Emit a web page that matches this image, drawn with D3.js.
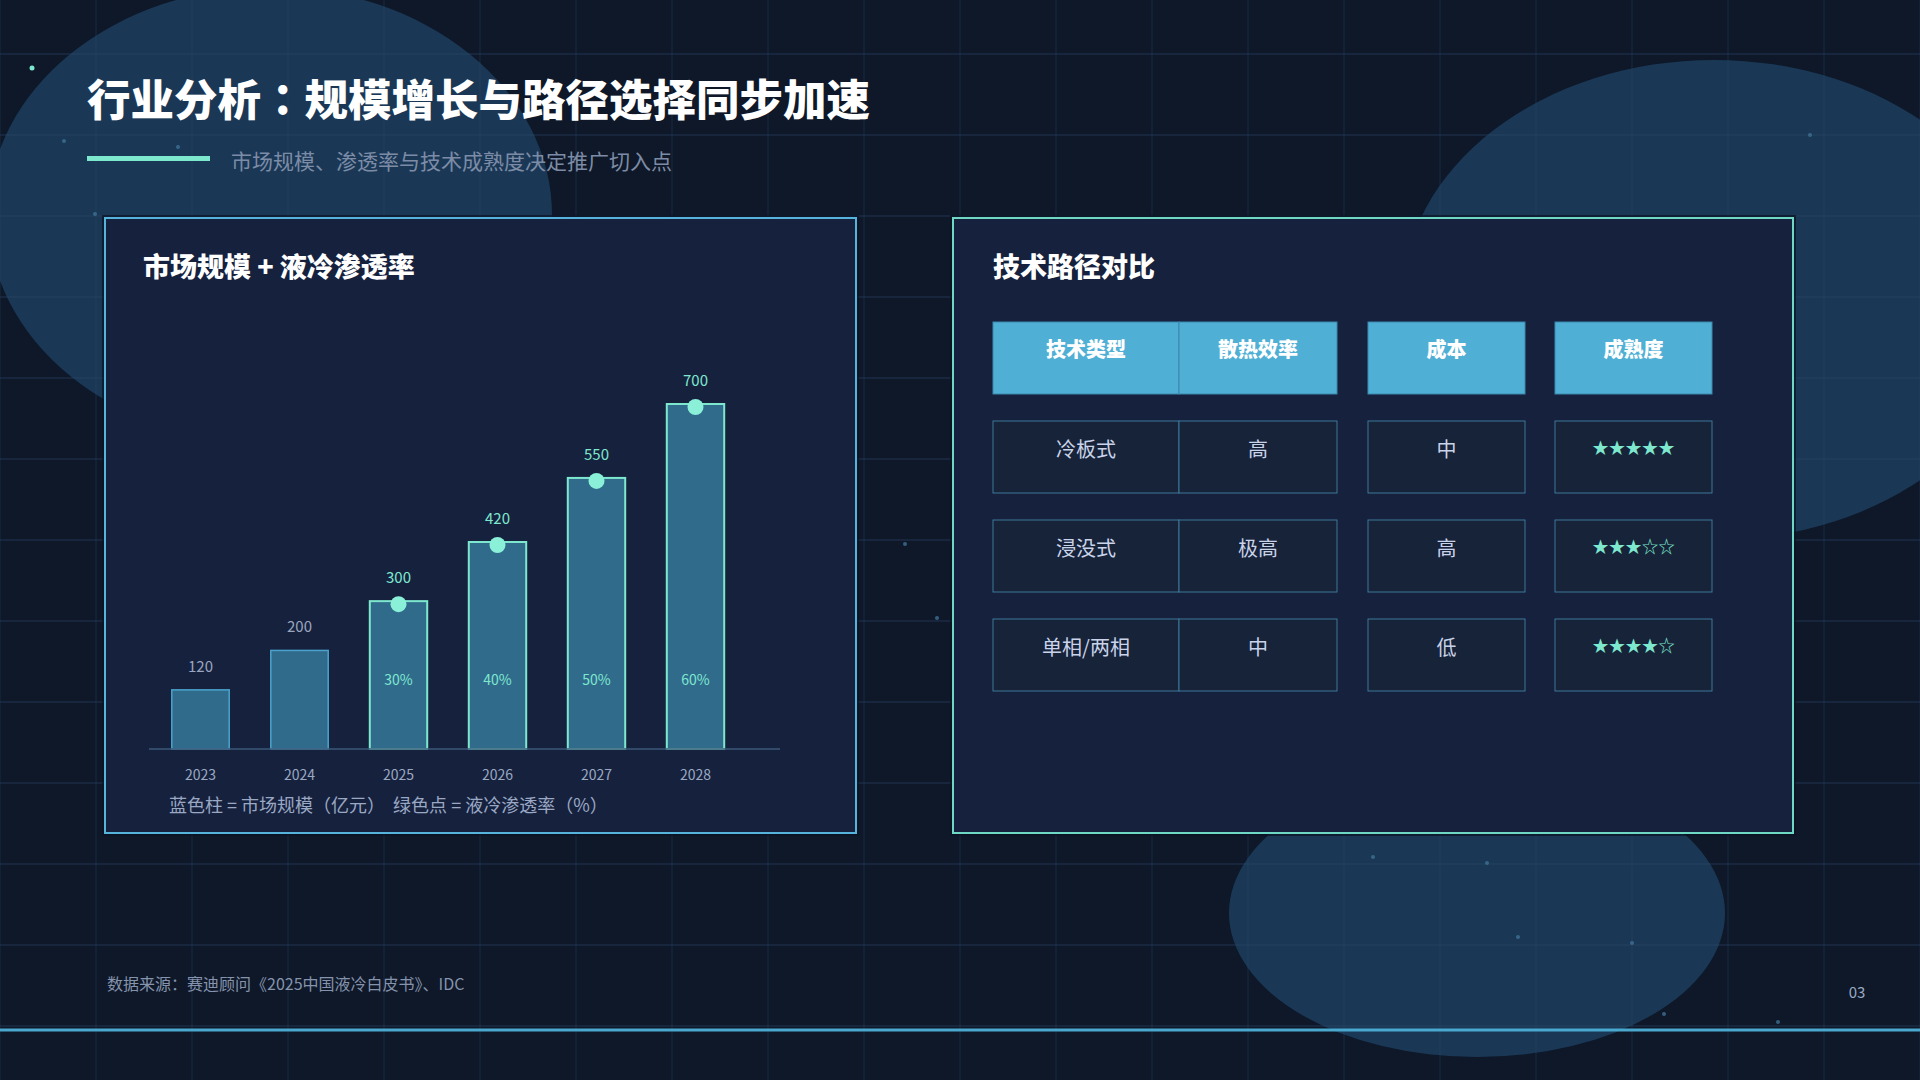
<!DOCTYPE html>
<html lang="zh-CN">
<head>
<meta charset="utf-8">
<title>行业分析：规模增长与路径选择同步加速</title>
<script src="https://cdn.jsdelivr.net/npm/d3@7"></script>
<style>
  html, body { margin: 0; padding: 0; background: #0e1828; }
  svg { display: block; font-family: "Noto Sans CJK SC", "Noto Sans", sans-serif; }
</style>
</head>
<body>
<svg width="1920" height="1080"></svg>
<script>
// chart data
const years = ['2023', '2024', '2025', '2026', '2027', '2028'];
const marketSize = [120, 200, 300, 420, 550, 700];          // 亿元
const penetration = [null, null, 30, 40, 50, 60];           // %

// table data
const tableHeaders = ['技术类型', '散热效率', '成本', '成熟度'];
const techTypes = ['冷板式', '浸没式', '单相/两相'];
const efficiency = ['高', '极高', '中'];
const cost = ['中', '高', '低'];
const maturity = ['★★★★★', '★★★☆☆', '★★★★☆'];

const mint = '#7ee8cf';
const svg = d3.select('svg');

// ---- background ----
svg.append('rect').attr('width', 1920).attr('height', 1080).attr('fill', '#0e1828');

const blobs = [
  { cx: 270, cy: 215, rx: 282, ry: 228 },
  { cx: 1714, cy: 300, rx: 312, ry: 240 },
  { cx: 1477, cy: 913, rx: 248, ry: 144 }
];
svg.selectAll('ellipse.blob')
  .data(blobs)
  .enter()
  .append('ellipse')
  .attr('class', 'blob')
  .attr('cx', d => d.cx).attr('cy', d => d.cy)
  .attr('rx', d => d.rx).attr('ry', d => d.ry)
  .attr('fill', '#1a3856');

let grid = svg.append('g').attr('stroke', '#2a4466').attr('stroke-opacity', 0.45);
grid.selectAll('line.v')
  .data(d3.range(0, 1921, 96))
  .enter().append('line')
  .attr('x1', d => d).attr('x2', d => d)
  .attr('y1', 0).attr('y2', 1080)
  .attr('stroke-width', 1);
grid.selectAll('line.h')
  .data(d3.range(54, 1080, 81))
  .enter().append('line')
  .attr('x1', 0).attr('x2', 1920)
  .attr('y1', d => d).attr('y2', d => d)
  .attr('stroke-width', 1.5);

// particles
const dots = [[64, 141], [178, 147], [95, 214], [905, 544], [937, 618], [1810, 135],
              [1373, 857], [1487, 863], [1518, 937], [1632, 943], [1664, 1014], [1778, 1022]];
svg.selectAll('circle.p')
  .data(dots)
  .enter().append('circle')
  .attr('cx', d => d[0]).attr('cy', d => d[1]).attr('r', 2)
  .attr('fill', '#3f7194').attr('opacity', 0.8);
svg.append('circle').attr('cx', 32).attr('cy', 68).attr('r', 2.5).attr('fill', mint);

// bottom line
svg.append('line')
  .attr('x1', 0).attr('x2', 1920).attr('y1', 1030).attr('y2', 1030)
  .attr('stroke', '#4aa8cf').attr('stroke-width', 3);

// ---- heading ----
let heading = svg.append('text')
  .attr('x', 87).attr('y', 116)
  .attr('font-size', '43.5px').attr('font-weight', 900)
  .attr('fill', '#ffffff');
heading.append('tspan').text('行业分析');
heading.append('tspan').attr('lang', 'zh-TW').attr('font-family', '"Noto Sans CJK TC", "Noto Sans CJK SC", sans-serif').text('：');
heading.append('tspan').text('规模增长与路径选择同步加速');

svg.append('rect').attr('x', 87).attr('y', 156).attr('width', 123).attr('height', 5).attr('fill', mint);

svg.append('text')
  .attr('x', 231).attr('y', 169)
  .attr('font-size', '21px')
  .attr('fill', '#7d8ca6')
  .text('市场规模、渗透率与技术成熟度决定推广切入点');

// ---- panels ----
function panel(x, y, w, h, stroke) {
  svg.append('rect').attr('x', x - 3).attr('y', y - 3).attr('width', w + 6).attr('height', h + 6)
    .attr('fill', '#0a1322').attr('opacity', 0.7);
  svg.append('rect').attr('x', x).attr('y', y).attr('width', w).attr('height', h)
    .attr('fill', '#16213e').attr('stroke', stroke).attr('stroke-width', 2);
}
panel(105, 218, 751, 615, '#56b4dc');
panel(953, 218, 840, 615, '#6fd8c4');

svg.append('text')
  .attr('x', 143).attr('y', 277)
  .attr('font-size', '27px').attr('font-weight', 900).attr('fill', '#ffffff')
  .text('市场规模 + 液冷渗透率');

svg.append('text')
  .attr('x', 993).attr('y', 277)
  .attr('font-size', '27px').attr('font-weight', 900).attr('fill', '#ffffff')
  .text('技术路径对比');

// ---- bar chart ----
const baseY = 749;
let xScale = d3.scaleBand()
  .domain(years)
  .range([151, 745])
  .paddingInner(0.42)
  .paddingOuter(0.21);

let yScale = d3.scaleLinear()
  .domain([0, 700])
  .range([baseY, baseY - 345]);

let chartData = years.map((y, i) => ({ year: y, size: marketSize[i], pct: penetration[i] }));

let chart = svg.append('g');

chart.selectAll('rect.bar')
  .data(chartData)
  .enter()
  .append('rect')
  .attr('class', 'bar')
  .attr('x', d => xScale(d.year))
  .attr('y', d => yScale(d.size))
  .attr('width', xScale.bandwidth())
  .attr('height', d => baseY - yScale(d.size))
  .attr('fill', '#316b8c')
  .attr('stroke', d => d.pct == null ? '#4aa3cc' : mint)
  .attr('stroke-width', d => d.pct == null ? 1.5 : 2);

// axis
chart.append('line')
  .attr('x1', 149).attr('x2', 780).attr('y1', baseY).attr('y2', baseY)
  .attr('stroke', '#3b5878').attr('stroke-width', 1.5);

let xAxis = chart.append('g')
  .attr('transform', `translate(0, ${baseY})`)
  .call(d3.axisBottom(xScale).tickSize(0).tickPadding(21));
xAxis.select('.domain').remove();
xAxis.selectAll('text')
  .attr('font-family', '"Noto Sans CJK SC", "Noto Sans", sans-serif')
  .attr('font-size', '14px')
  .attr('fill', '#9aa9c2');

// value labels
chart.selectAll('text.val')
  .data(chartData)
  .enter().append('text')
  .attr('class', 'val')
  .attr('x', d => xScale(d.year) + xScale.bandwidth() / 2)
  .attr('y', d => yScale(d.size) - 18)
  .attr('text-anchor', 'middle')
  .attr('font-size', '15px')
  .attr('fill', d => d.pct == null ? '#9aa6bf' : mint)
  .text(d => d.size);

let withPct = chartData.filter(d => d.pct != null);

// penetration dots
chart.selectAll('circle.pct')
  .data(withPct)
  .enter().append('circle')
  .attr('class', 'pct')
  .attr('cx', d => xScale(d.year) + xScale.bandwidth() / 2)
  .attr('cy', d => yScale(d.size) + 3)
  .attr('r', 8)
  .attr('fill', '#8af0d8');

chart.selectAll('text.pctl')
  .data(withPct)
  .enter().append('text')
  .attr('class', 'pctl')
  .attr('x', d => xScale(d.year) + xScale.bandwidth() / 2)
  .attr('y', baseY - 64)
  .attr('text-anchor', 'middle')
  .attr('font-size', '14px')
  .attr('fill', mint)
  .text(d => d.pct + '%');

svg.append('text')
  .attr('x', 169).attr('y', 812)
  .attr('font-size', '18px')
  .attr('fill', '#9aa8c4')
  .attr('xml:space', 'preserve')
  .text('蓝色柱 = 市场规模（亿元）  绿色点 = 液冷渗透率（%）');

// ---- table ----
const cols = [
  { x: 993, w: 186 },
  { x: 1179, w: 158 },
  { x: 1368, w: 157 },
  { x: 1555, w: 157 }
];
const rowTop = [322, 421, 520, 619];
const rowH = 72;

let table = svg.append('g');

// header
table.selectAll('rect.th')
  .data(tableHeaders)
  .enter().append('rect')
  .attr('x', (d, i) => cols[i].x).attr('y', rowTop[0])
  .attr('width', (d, i) => cols[i].w).attr('height', rowH)
  .attr('fill', '#50afd5').attr('stroke', '#3a88ac').attr('stroke-width', 1);
table.selectAll('text.th')
  .data(tableHeaders)
  .enter().append('text')
  .attr('x', (d, i) => cols[i].x + cols[i].w / 2).attr('y', rowTop[0] + 35)
  .attr('text-anchor', 'middle')
  .attr('font-size', '20px').attr('font-weight', 900).attr('fill', '#ffffff')
  .text(d => d);

let rows = techTypes.map((t, i) => [t, efficiency[i], cost[i], maturity[i]]);

rows.forEach((r, ri) => {
  let y0 = rowTop[ri + 1];
  table.selectAll('rect.r' + ri)
    .data(r)
    .enter().append('rect')
    .attr('x', (d, i) => cols[i].x).attr('y', y0)
    .attr('width', (d, i) => cols[i].w).attr('height', rowH)
    .attr('fill', '#172339').attr('stroke', '#3d7898').attr('stroke-width', 1);
  table.selectAll('text.r' + ri)
    .data(r)
    .enter().append('text')
    .attr('x', (d, i) => cols[i].x + cols[i].w / 2)
    .attr('y', (d, i) => i === 3 ? y0 + 33 : y0 + 36)
    .attr('text-anchor', 'middle')
    .attr('font-size', (d, i) => i === 3 ? '16.5px' : '20px')
    .attr('fill', (d, i) => i === 3 ? mint : '#c9d3ea')
    .text(d => d);
});

// ---- footer ----
svg.append('text')
  .attr('x', 107).attr('y', 990)
  .attr('font-size', '16px').attr('fill', '#8593ad')
  .text('数据来源：赛迪顾问《2025中国液冷白皮书》、IDC');

svg.append('text')
  .attr('x', 1857).attr('y', 998)
  .attr('text-anchor', 'middle')
  .attr('font-size', '15px').attr('fill', '#9aa9c2')
  .text('03');
</script>
</body>
</html>
